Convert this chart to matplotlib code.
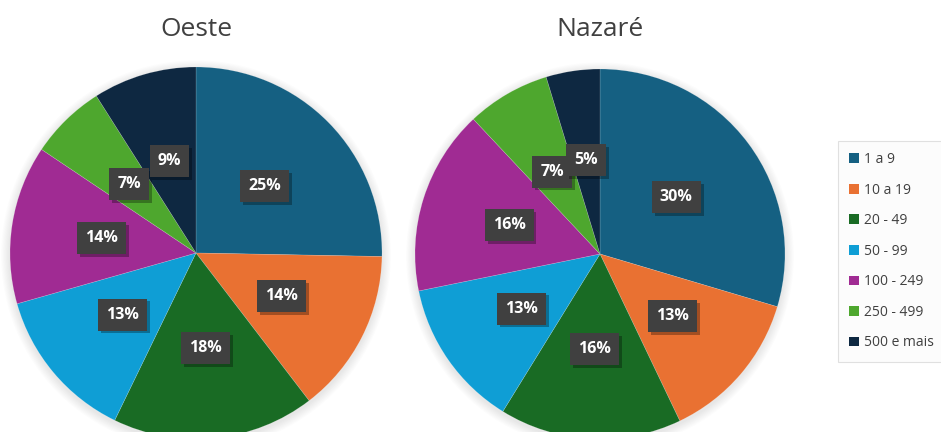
import numpy as np
import matplotlib.pyplot as plt
import matplotlib.patches as patches
import matplotlib.patheffects as pe

plt.rcParams['font.family'] = ['Open Sans', 'DejaVu Sans']

categorias = ['1 a 9', '10 a 19', '20 - 49', '50 - 99', '100 - 249', '250 - 499', '500 e mais']
oeste = [25.3, 14.3, 17.6, 13.4, 13.8, 6.6, 9.0]
nazare = [29.6, 13.3, 15.9, 13.0, 16.2, 7.3, 4.7]
titulos = ['Oeste', 'Nazaré']
cores = ['#156082', '#E97132', '#196B24', '#0F9ED5', '#A02B93', '#4EA72E', '#0E2841']

W, H = 941, 432
fig = plt.figure(figsize=(W / 100, H / 100), dpi=100)
fig.patch.set_facecolor('white')


def desenha_pizza(cx, cy, r, valores, titulo):
    ax = fig.add_axes([(cx - r) / W, (H - cy - r) / H, 2 * r / W, 2 * r / H])
    wedges, _ = ax.pie(valores, colors=cores, startangle=90, counterclock=False,
                       radius=1, wedgeprops=dict(linewidth=0.4, edgecolor='#ffffff40'))
    ax.set_xlim(-1, 1)
    ax.set_ylim(-1, 1)
    ax.set_aspect('equal')
    ax.axis('off')
    for w in wedges:
        w.set_zorder(1)
        w.set_clip_on(False)
    # sombra suave
    for k in range(8):
        c = patches.Circle((0, -0.012), 1 + 0.006 * (k + 1), color='k',
                           alpha=0.012, lw=0, zorder=0)
        c.set_clip_on(False)
        ax.add_patch(c)
    total = sum(valores)
    ang = 90.0
    for v in valores:
        meio = np.deg2rad(ang - v / total * 360 / 2)
        ang -= v / total * 360
        t = ax.text(0.515 * np.cos(meio), 0.515 * np.sin(meio), f'{v:.0f}%', ha='center', va='center',
                    fontsize=11.5, fontweight='bold', color='white', zorder=5,
                    bbox=dict(boxstyle='square,pad=0.5', facecolor='#404040', edgecolor='none'))
        t.get_bbox_patch().set_path_effects([
            pe.SimplePatchShadow(offset=(2, -2), shadow_rgbFace='k', alpha=0.3), pe.Normal()])
    fig.text(cx / W, 1 - 30 / H, titulo, ha='center', va='center', fontsize=19, color='#404040')


desenha_pizza(196, 253, 186, oeste, titulos[0])
desenha_pizza(600, 254, 185, nazare, titulos[1])

handles = [patches.Patch(facecolor=c, edgecolor='none') for c in cores]
leg = fig.legend(handles, categorias, loc='upper left', bbox_to_anchor=(838 / W, 1 - 141 / H),
                 frameon=True, fontsize=10, labelspacing=1.12, handlelength=0.7, handleheight=0.7,
                 handletextpad=0.4, borderpad=0.8, fancybox=False, borderaxespad=0)
leg.get_frame().set_edgecolor('#d9d9d9')
leg.get_frame().set_facecolor('#fcfcfc')
leg.get_frame().set_linewidth(0.8)
for t in leg.get_texts():
    t.set_color('#404040')

fig.savefig('out.png', dpi=100)
